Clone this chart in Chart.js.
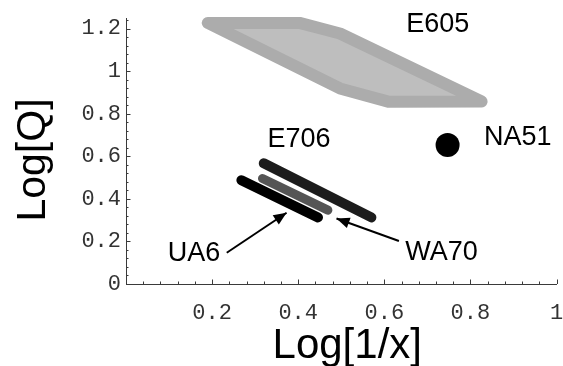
<!DOCTYPE html>
<html>
<head>
<meta charset="utf-8">
<script src="https://cdn.jsdelivr.net/npm/chart.js@4/dist/chart.umd.min.js"></script>
<style>
  html, body { margin: 0; padding: 0; background: #ffffff; }
  canvas { display: block; }
</style>
</head>
<body>
<canvas id="chart" width="563" height="366"></canvas>
<script>
// Horizontal axis: Log[1/x]; vertical axis: Log[Q]

// E605 region outline (closed polygon)
const e605X = [0.190, 0.403, 0.497, 0.826, 0.609, 0.497, 0.190];
const e605Y = [1.227, 1.227, 1.177, 0.858, 0.857, 0.919, 1.227];

// E706 band
const e706X = [0.320, 0.570];
const e706Y = [0.567, 0.313];

// WA70 band
const wa70X = [0.317, 0.469];
const wa70Y = [0.496, 0.347];

// UA6 band
const ua6X = [0.268, 0.446];
const ua6Y = [0.488, 0.313];

// NA51 point
const na51X = [0.747];
const na51Y = [0.653];

// Pointer arrows (tail -> head)
const ua6ArrowX = [0.234, 0.373];
const ua6ArrowY = [0.147, 0.335];
const wa70ArrowX = [0.634, 0.489];
const wa70ArrowY = [0.202, 0.308];

// Experiment names and their anchor points (text baseline centre)
const noteNames = ['E605', 'E706', 'NA51', 'UA6', 'WA70'];
const noteX = [0.724, 0.402, 0.910, 0.158, 0.733];
const noteY = [1.185, 0.642, 0.653, 0.109, 0.113];

// Axis tick labels
const xTicks = [0.2, 0.4, 0.6, 0.8, 1];
const yTicks = [0, 0.2, 0.4, 0.6, 0.8, 1, 1.2];

const xMin = 0, xMax = 1, yMin = 0, yMax = 1.25;
const minorStep = 0.04;

function points(xs, ys) {
  return xs.map((x, i) => ({ x: x, y: ys[i] }));
}

const bandStyle = (color, width) => ({
  borderColor: color,
  borderWidth: width,
  borderCapStyle: 'round',
  borderJoinStyle: 'round',
  pointRadius: 0,
  fill: false,
  tension: 0,
  clip: false
});

// Axes with inward ticks, drawn in the data coordinate system
const axesPlugin = {
  id: 'inwardAxes',
  beforeDatasetsDraw(chart) {
    const { ctx, scales: { x, y } } = chart;
    const x0 = x.getPixelForValue(0);
    const y0 = y.getPixelForValue(0);
    ctx.save();
    ctx.strokeStyle = '#3a3a3a';
    ctx.lineWidth = 1;
    ctx.beginPath();
    ctx.moveTo(x0, Math.round(y0) + 0.5);
    ctx.lineTo(x.getPixelForValue(xMax) + 0.5, Math.round(y0) + 0.5);
    ctx.moveTo(Math.round(x0) + 0.5, y0 + 0.5);
    ctx.lineTo(Math.round(x0) + 0.5, y.getPixelForValue(yMax));
    const nx = Math.round((xMax - xMin) / minorStep);
    for (let i = 1; i <= nx; i++) {
      const px = Math.round(x.getPixelForValue(i * minorStep)) + 0.5;
      const len = i % 5 === 0 ? 4.5 : 2.5;
      ctx.moveTo(px, y0);
      ctx.lineTo(px, y0 - len);
    }
    const ny = Math.floor((yMax - yMin) / minorStep + 1e-6);
    for (let i = 1; i <= ny; i++) {
      const py = Math.round(y.getPixelForValue(i * minorStep)) + 0.5;
      const len = i % 5 === 0 ? 4.5 : 2.5;
      ctx.moveTo(x0, py);
      ctx.lineTo(x0 + len, py);
    }
    ctx.stroke();
    ctx.restore();
  },
  afterDatasetsDraw(chart) {
    const { ctx, scales: { x, y } } = chart;
    ctx.save();
    // arrow heads at the last point of each arrow dataset
    chart.data.datasets.forEach((ds, i) => {
      if (!ds.arrowHead) return;
      const pts = chart.getDatasetMeta(i).data;
      const a = pts[pts.length - 2], b = pts[pts.length - 1];
      const ang = Math.atan2(b.y - a.y, b.x - a.x);
      const len = 13, half = 5.5;
      ctx.fillStyle = ds.borderColor;
      ctx.beginPath();
      ctx.moveTo(b.x, b.y);
      ctx.lineTo(b.x - len * Math.cos(ang) + half * Math.sin(ang),
                 b.y - len * Math.sin(ang) - half * Math.cos(ang));
      ctx.lineTo(b.x - len * Math.cos(ang) - half * Math.sin(ang),
                 b.y - len * Math.sin(ang) + half * Math.cos(ang));
      ctx.closePath();
      ctx.fill();
    });
    // experiment names
    ctx.fillStyle = '#000000';
    ctx.font = '27px "Liberation Sans", Arial, sans-serif';
    ctx.textAlign = 'center';
    ctx.textBaseline = 'alphabetic';
    noteNames.forEach((name, i) => {
      ctx.fillText(name, x.getPixelForValue(noteX[i]), y.getPixelForValue(noteY[i]));
    });
    // axis titles
    const area = chart.chartArea;
    ctx.font = '42px "Liberation Sans", Arial, sans-serif';
    ctx.fillText('Log[1/x]', (area.left + area.right) / 2 + 6, 358);
    ctx.save();
    ctx.translate(45, (area.top + area.bottom) / 2 + 9);
    ctx.rotate(-Math.PI / 2);
    ctx.font = '41px "Liberation Sans", Arial, sans-serif';
    ctx.fillText('Log[Q]', 0, 0);
    ctx.restore();
    ctx.restore();
  }
};

const tickFont = { family: '"Liberation Mono", "Courier New", monospace', size: 22 };

new Chart(document.getElementById('chart'), {
  type: 'line',
  data: {
    datasets: [
      Object.assign({
        label: 'E605',
        data: points(e605X, e605Y),
        backgroundColor: '#bebebe'
      }, bandStyle('#acacac', 12), { fill: 'shape' }),
      Object.assign({ label: 'E706', data: points(e706X, e706Y) }, bandStyle('#1c1c1c', 10)),
      Object.assign({ label: 'UA6', data: points(ua6X, ua6Y) }, bandStyle('#000000', 10)),
      Object.assign({ label: 'WA70', data: points(wa70X, wa70Y) }, bandStyle('#555555', 9)),
      {
        label: 'NA51',
        data: points(na51X, na51Y),
        showLine: false,
        pointRadius: 12,
        pointBackgroundColor: '#000000',
        pointBorderWidth: 0,
        clip: false
      },
      Object.assign({ label: 'UA6 arrow', data: points(ua6ArrowX, ua6ArrowY), arrowHead: true },
        bandStyle('#000000', 2), { borderCapStyle: 'butt' }),
      Object.assign({ label: 'WA70 arrow', data: points(wa70ArrowX, wa70ArrowY), arrowHead: true },
        bandStyle('#000000', 2), { borderCapStyle: 'butt' })
    ]
  },
  options: {
    responsive: false,
    animation: false,
    devicePixelRatio: 1,
    layout: { autoPadding: false, padding: { top: 18, right: 0, left: 0, bottom: 0 } },
    plugins: { legend: { display: false }, tooltip: { enabled: false } },
    elements: { line: { tension: 0 } },
    scales: {
      x: {
        type: 'linear',
        min: xMin,
        max: xMax,
        grid: { display: false, drawTicks: false },
        border: { display: false },
        ticks: {
          font: tickFont,
          color: '#333333',
          padding: 16,
          maxRotation: 0,
          autoSkip: false,
          callback: (v) => String(v)
        },
        afterBuildTicks: (s) => { s.ticks = xTicks.map(v => ({ value: v })); },
        afterFit: (s) => { s.height = 82; s.paddingLeft = 0; s.paddingRight = 6.5; }
      },
      y: {
        type: 'linear',
        min: yMin,
        max: yMax,
        grid: { display: false, drawTicks: false },
        border: { display: false },
        ticks: {
          font: tickFont,
          color: '#333333',
          padding: 5,
          autoSkip: false,
          callback: (v) => String(v)
        },
        afterBuildTicks: (s) => { s.ticks = yTicks.map(v => ({ value: v })); },
        afterFit: (s) => { s.width = 126; s.paddingTop = 0; s.paddingBottom = 0; }
      }
    }
  },
  plugins: [axesPlugin]
});
</script>
</body>
</html>
